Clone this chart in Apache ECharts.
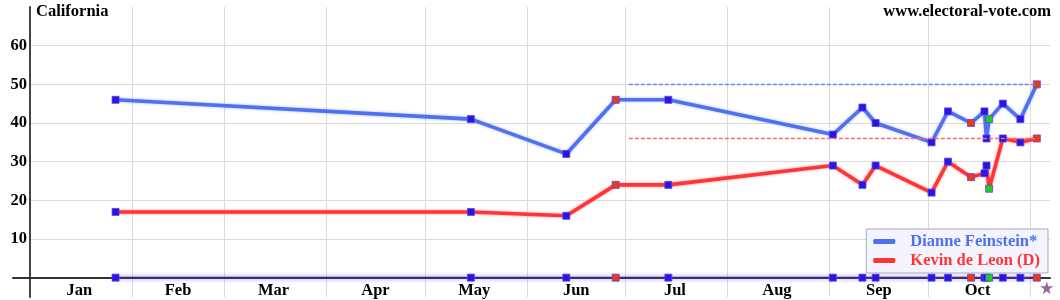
<!DOCTYPE html>
<html><head><meta charset="utf-8">
<script src="https://cdn.jsdelivr.net/npm/echarts@6/dist/echarts.min.js"></script>
<style>html,body{margin:0;padding:0;background:#fff}#c{width:1060px;height:300px}</style>
</head><body><div id="c"></div>
<script>
// ---- data ----
const pollDates = ['2018-01-27','2018-05-15','2018-06-13','2018-06-28','2018-07-14',
  '2018-09-02','2018-09-11','2018-09-15','2018-10-02','2018-10-07','2018-10-14',
  '2018-10-18 02:00','2018-10-18 17:00','2018-10-19 12:00','2018-10-23 16:00','2018-10-29','2018-11-03'];
const feinstein = [46,41,32,46,46,37,44,40,35,43,40,43,36,41,45,41,50];
const deLeon    = [17,17,16,24,24,29,24,29,22,30,26,27,29,23,36,35,36];
const pollKind  = ['b','b','b','r','b','b','b','b','b','b','r','b','b','g','b','b','r'];
const monthLabels = ['Jan','Feb','Mar','Apr','May','Jun','Jul','Aug','Sep','Oct'];
const monthLabelDates = ['2018-01-16','2018-02-15','2018-03-16','2018-04-16','2018-05-16',
  '2018-06-16','2018-07-16','2018-08-16','2018-09-16','2018-10-16'];
const monthStarts = ['2018-02-01','2018-03-01','2018-04-01','2018-05-01','2018-06-01',
  '2018-07-01','2018-08-01','2018-09-01','2018-10-01','2018-11-01'];
const yTicks = [10,20,30,40,50,60];
const avgRange = ['2018-07-02','2018-11-03'];
const avgFeinstein = 50;
const avgDeLeon = 36;
const electionDay = ['2018-11-06'];
const electionMarkLevel = [-2.6];
const xRange = ['2018-01-01','2018-11-07'];
const yRange = [-5, 70];

// ---- rendering ----
const T = s => echarts.time.parse(s).getTime();
const kindColor = {b:'#2a14e0', r:'#ee3a10', g:'#22cc22'};
const FONT = '"Liberation Serif","Times New Roman",serif';
const FS = 16.5;
const BLUE = '#4f70f0', RED = '#ff3535';

function pts(vals){ return pollDates.map((d,i)=>[T(d), vals[i]]); }
const markerStyle = {
  color: p => kindColor[pollKind[p.dataIndex]],
  borderColor: '#5544ee',
  borderWidth: 0.8
};

const chart = echarts.init(document.getElementById('c'), null, {renderer:'canvas'});
chart.setOption({
  animation: false,
  backgroundColor: '#fff',
  title: [
    {text:'California', left: 36, top: 3, padding: 0,
     textStyle:{fontFamily:FONT, fontWeight:'bold', fontSize:FS, color:'#000'}},
    {text:'www.electoral-vote.com', right: 9, top: 3, padding: 0,
     textStyle:{fontFamily:FONT, fontWeight:'bold', fontSize:FS, color:'#000'}}
  ],
  grid: [
    {left: 30, right: 10, top: 7, bottom: 3, containLabel: false, outerBoundsMode: 'none'},
    {left: 13, width: 17, top: 7, bottom: 3, containLabel: false, outerBoundsMode: 'none'}
  ],
  legend: {
    orient: 'vertical', right: 12, bottom: 27,
    backgroundColor: '#f4f4ff', borderColor: '#a8a8b8', borderWidth: 1,
    padding: [4, 8, 4, 7], itemGap: 2, itemWidth: 22, itemHeight: 5,
    textStyle: {fontFamily: FONT, fontWeight:'bold', fontSize: FS, padding:[0,0,0,10]},
    data: [
      {name:'Dianne Feinstein*', icon:'roundRect', itemStyle:{color:BLUE, borderWidth:0}, textStyle:{color:BLUE}},
      {name:'Kevin de Leon (D)', icon:'roundRect', itemStyle:{color:RED, borderWidth:0}, textStyle:{color:RED}}
    ]
  },
  xAxis: [{
    type: 'value', gridIndex: 0, min: T(xRange[0]), max: T(xRange[1]),
    axisLine: {onZero: true, lineStyle:{color:'#333', width: 2}},
    axisTick: {show: false, customValues: monthStarts.map(T)},
    splitLine: {show: true, lineStyle:{color:'#dcdcdc', width: 1}},
    axisLabel: {
      customValues: monthLabelDates.map(T), margin: -15,
      fontFamily: FONT, fontWeight:'bold', fontSize: FS, color:'#000',
      formatter: v => monthLabels[new Date(v).getMonth()]
    }
  }, {
    type: 'value', gridIndex: 1, min: 0, max: 1,
    axisLine: {onZero: true, lineStyle:{color:'#333', width: 2}},
    axisTick: {show: false}, splitLine: {show: false}, axisLabel: {show: false}
  }],
  yAxis: [{
    type: 'value', gridIndex: 0, min: yRange[0], max: yRange[1],
    axisLine: {show: true, lineStyle:{color:'#444', width: 2}},
    axisTick: {show: false, customValues: yTicks},
    splitLine: {show: true, lineStyle:{color:'#dcdcdc', width: 1}},
    axisLabel: {customValues: yTicks, margin: 3, fontFamily: FONT, fontWeight:'bold', fontSize: FS, color:'#000'}
  }, {
    type: 'value', gridIndex: 1, min: yRange[0], max: yRange[1],
    axisLine: {show: false}, axisTick: {show: false}, splitLine: {show: false}, axisLabel: {show: false}
  }],
  series: [
    {
      name: 'Dianne Feinstein*', type: 'line', data: pts(feinstein), z: 3,
      symbol: 'rect', symbolSize: 7, showAllSymbol: true,
      lineStyle: {color: BLUE, width: 3.6, shadowColor:'rgba(79,112,240,0.5)', shadowBlur: 3},
      itemStyle: markerStyle,
      markLine: {silent:true, symbol:'none', label:{show:false},
        lineStyle:{color:'#6d88f5', type:[4,2], width:1.3},
        data:[[{coord:[T(avgRange[0]), avgFeinstein]}, {coord:[T(avgRange[1]), avgFeinstein]}]]}
    },
    {
      name: 'Kevin de Leon (D)', type: 'line', data: pts(deLeon), z: 3,
      symbol: 'rect', symbolSize: 7, showAllSymbol: true,
      lineStyle: {color: RED, width: 3.6, shadowColor:'rgba(255,53,53,0.5)', shadowBlur: 3},
      itemStyle: markerStyle,
      markLine: {silent:true, symbol:'none', label:{show:false},
        lineStyle:{color:'#ff6a6a', type:[4,2], width:1.3},
        data:[[{coord:[T(avgRange[0]), avgDeLeon]}, {coord:[T(avgRange[1]), avgDeLeon]}]]}
    },
    {
      name: 'polls', type: 'line', data: pts(pollDates.map(()=>0)), z: 2,
      symbol: 'rect', symbolSize: 7, showAllSymbol: true,
      lineStyle: {color: '#3a2a70', width: 2, shadowColor:'rgba(140,110,255,0.9)', shadowBlur: 5},
      itemStyle: markerStyle
    },
    {
      name: 'election', type: 'scatter', z: 4,
      data: electionDay.map((d,i)=>[T(d), electionMarkLevel[i]]),
      symbol: 'path://M50,0 L61,35 L98,35 L68,57 L79,91 L50,70 L21,91 L32,57 L2,35 L39,35 Z',
      symbolSize: 13, itemStyle: {color: '#7d3f8c'}
    }
  ]
});
</script>
</body></html>
